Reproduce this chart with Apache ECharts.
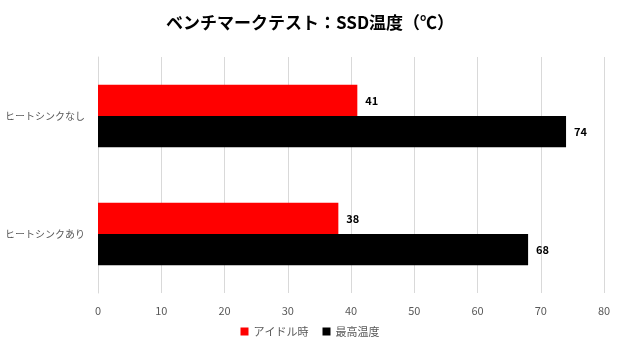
<!DOCTYPE html>
<html>
<head>
<meta charset="utf-8">
<script src="https://cdn.jsdelivr.net/npm/echarts@6/dist/echarts.min.js"></script>
<style>
    html, body { margin: 0; padding: 0; background: #fff; }
    #chart { width: 620px; height: 350px; }
</style>
</head>
<body>
<div id="chart"></div>
<script>
// データ
const categories = ['ヒートシンクなし', 'ヒートシンクあり'];
const idleTemp = [41, 38];
const maxTemp = [74, 68];
const seriesNames = ['アイドル時', '最高温度'];

const font = '"Noto Sans CJK JP", "Noto Sans", sans-serif';
const myChart = echarts.init(document.getElementById('chart'));

const labelStyle = {
    show: true,
    position: 'right',
    distance: 8,
    fontSize: 11,
    fontWeight: 'bold',
    color: '#000',
    fontFamily: font
};

const option = {
    animation: false,
    title: {
        text: 'ベンチマークテスト：SSD温度（℃）',
        left: 'center',
        top: 9,
        textStyle: {
            fontSize: 17,
            fontWeight: 'bold',
            color: '#000',
            fontFamily: font
        }
    },
    legend: {
        data: seriesNames,
        bottom: 8,
        itemWidth: 8,
        itemHeight: 8,
        itemGap: 14,
        icon: 'rect',
        textStyle: { fontSize: 11, color: '#595959', fontFamily: font }
    },
    grid: {
        left: 98,
        right: 16,
        top: 57,
        bottom: 57,
        containLabel: false,
        outerBoundsMode: 'none'
    },
    xAxis: {
        type: 'value',
        min: 0,
        max: 80,
        interval: 10,
        axisLine: { show: false },
        axisTick: { show: false },
        axisLabel: { fontSize: 11, color: '#595959', margin: 12, fontFamily: font },
        splitLine: { lineStyle: { color: '#d9d9d9', width: 1 } }
    },
    yAxis: {
        type: 'category',
        inverse: true,
        data: categories,
        axisLine: { show: true, lineStyle: { color: '#d9d9d9' } },
        axisTick: { show: false },
        axisLabel: { fontSize: 10, color: '#595959', margin: 13, fontFamily: font }
    },
    series: [
        {
            name: seriesNames[0],
            type: 'bar',
            data: idleTemp,
            barGap: '0%',
            barCategoryGap: '47%',
            itemStyle: { color: '#ff0000' },
            label: labelStyle
        },
        {
            name: seriesNames[1],
            type: 'bar',
            data: maxTemp,
            itemStyle: { color: '#000000' },
            label: labelStyle
        }
    ]
};

option && myChart.setOption(option);
</script>
</body>
</html>
